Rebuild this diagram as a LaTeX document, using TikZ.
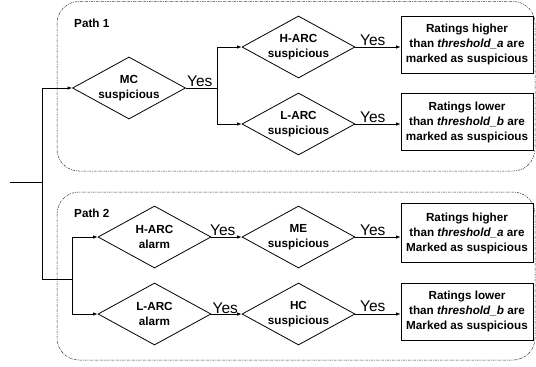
\documentclass[tikz,border=0pt]{standalone}
\usepackage{fontspec}
\setmainfont{Liberation Sans}
\usetikzlibrary{shapes.geometric,arrows.meta}
\begin{document}
\begin{tikzpicture}[x=1pt,y=-1pt,
  every node/.style={font=\fontsize{11.7}{15}\selectfont\bfseries, align=center, inner sep=0pt},
  decision/.style={draw, shape=diamond, aspect=1.8, minimum width=113pt, minimum height=62pt, line width=0.8pt},
  outcome/.style={draw, rectangle, minimum width=132pt, minimum height=57pt, line width=0.8pt},
  yeslabel/.style={font=\fontsize{15.5}{18}\selectfont, anchor=base west},
  pathlabel/.style={anchor=base west},
  group/.style={draw=black!80, line width=0.5pt, dash pattern=on 2.5pt off 1pt on 0.8pt off 1pt, rounded corners=22pt},
  link/.style={line width=0.8pt},
  flow/.style={link, -{Latex[length=4.5pt,width=3.5pt]}}
]
\useasboundingbox (0,0) rectangle (536,367);

% dash-dotted group frames
\draw[group] (57,1.5) rectangle (535,171);
\draw[group] (57,192) rectangle (535,360);
\node[pathlabel] (p1) at (74,27) {Path 1};
\node[pathlabel] (p2) at (74,217) {Path 2};

% decisions
\node[decision] (mc) at (129,88) {MC\\suspicious};
\node[decision] (hs) at (298.5,47) {H-ARC\\suspicious};
\node[decision] (ls) at (298.5,124) {L-ARC\\suspicious};
\node[decision] (ha) at (154.5,237) {H-ARC\\alarm};
\node[decision] (la) at (154.5,314) {L-ARC\\alarm};
\node[decision] (me) at (298.5,237) {ME\\suspicious};
\node[decision] (hc) at (298.5,314) {HC\\suspicious};

% outcomes
\node[outcome] (r1) at (467,44.5) {Ratings higher\\than \textit{threshold\_a} are\\marked as suspicious};
\node[outcome] (r2) at (467,122) {Ratings lower\\than \textit{threshold\_b} are\\marked as suspicious};
\node[outcome, minimum height=59pt] (r3) at (467,233) {Ratings higher\\than \textit{threshold\_a} are\\Marked as suspicious};
\node[outcome] (r4) at (467,311.5) {Ratings lower\\than \textit{threshold\_b} are\\Marked as suspicious};

% input trunk
\coordinate (in) at (10,182);
\coordinate (t1) at (42,182);
\coordinate (s2) at (72,279);
\coordinate (s1) at (217,88);
\draw[link] (in) -- (t1);
\draw[flow] (t1) |- (mc.west);
\draw[link] (t1) |- (s2);
\draw[flow] (s2) |- (ha.west);
\draw[flow] (s2) |- (la.west);

% path 1
\draw[link] (mc.east) -- (s1);
\draw[flow] (s1) |- (hs.west);
\draw[flow] (s1) |- (ls.west);
\draw[flow] (hs.east) -- (hs.east -| r1.west);
\draw[flow] (ls.east) -- (ls.east -| r2.west);

% path 2
\draw[flow] (ha.east) -- (me.west);
\draw[flow] (la.east) -- (hc.west);
\draw[flow] (me.east) -- (me.east -| r3.west);
\draw[flow] (hc.east) -- (hc.east -| r4.west);

% branch labels
\node[yeslabel] (y1) at (187,86.5) {Yes};
\node[yeslabel] (y2) at (360,45.5) {Yes};
\node[yeslabel] (y3) at (360,122) {Yes};
\node[yeslabel] (y4) at (210,235) {Yes};
\node[yeslabel] (y5) at (212.5,313) {Yes};
\node[yeslabel] (y6) at (360,235) {Yes};
\node[yeslabel] (y7) at (360,311) {Yes};
\end{tikzpicture}
\end{document}
